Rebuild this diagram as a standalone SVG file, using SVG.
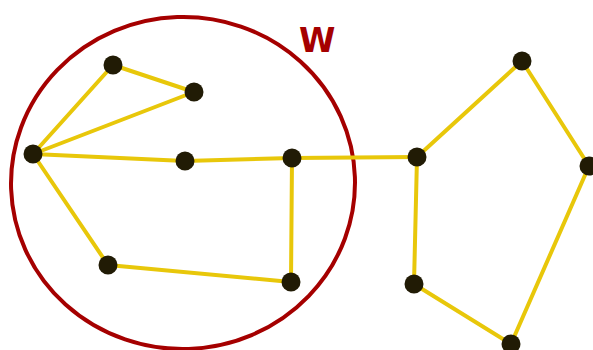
<svg xmlns="http://www.w3.org/2000/svg" width="593" height="350" viewBox="0 0 593 350">
<style>
.edge{stroke:#e8c70a;stroke-width:4;fill:none;stroke-linecap:round}
.node{fill:#211b05}
.ring{fill:none;stroke:#a50000;stroke-width:4}
.lbl{font-family:"DejaVu Sans",sans-serif;font-weight:bold;fill:#a50000}
</style>
<rect width="593" height="350" fill="#fff"/>
<ellipse class="ring" cx="183" cy="183" rx="172" ry="166" transform="rotate(-2 183 183)"/>
<text class="lbl" x="299" y="52" font-size="33">W</text>
<g id="connectors">
<line class="edge" x1="113" y1="65" x2="194" y2="92"/>
<line class="edge" x1="113" y1="65" x2="33" y2="154"/>
<line class="edge" x1="194" y1="92" x2="33" y2="154"/>
<line class="edge" x1="33" y1="154" x2="185" y2="161"/>
<line class="edge" x1="185" y1="161" x2="292" y2="158"/>
<line class="edge" x1="292" y1="158" x2="417" y2="157"/>
<line class="edge" x1="292" y1="158" x2="291" y2="282"/>
<line class="edge" x1="33" y1="154" x2="108" y2="265"/>
<line class="edge" x1="108" y1="265" x2="291" y2="282"/>
<line class="edge" x1="417" y1="157" x2="522" y2="61"/>
<line class="edge" x1="522" y1="61" x2="589" y2="166"/>
<line class="edge" x1="589" y1="166" x2="511" y2="344"/>
<line class="edge" x1="511" y1="344" x2="414" y2="284"/>
<line class="edge" x1="414" y1="284" x2="417" y2="157"/>
</g>
<g id="n1"><circle class="node" cx="113" cy="65" r="9.5"/></g>
<g id="n2"><circle class="node" cx="194" cy="92" r="9.5"/></g>
<g id="n3"><circle class="node" cx="33" cy="154" r="9.5"/></g>
<g id="n4"><circle class="node" cx="185" cy="161" r="9.5"/></g>
<g id="n5"><circle class="node" cx="292" cy="158" r="9.5"/></g>
<g id="n6"><circle class="node" cx="108" cy="265" r="9.5"/></g>
<g id="n7"><circle class="node" cx="291" cy="282" r="9.5"/></g>
<g id="n8"><circle class="node" cx="417" cy="157" r="9.5"/></g>
<g id="n9"><circle class="node" cx="522" cy="61" r="9.5"/></g>
<g id="n10"><circle class="node" cx="589" cy="166" r="9.5"/></g>
<g id="n11"><circle class="node" cx="414" cy="284" r="9.5"/></g>
<g id="n12"><circle class="node" cx="511" cy="344" r="9.5"/></g>
</svg>
